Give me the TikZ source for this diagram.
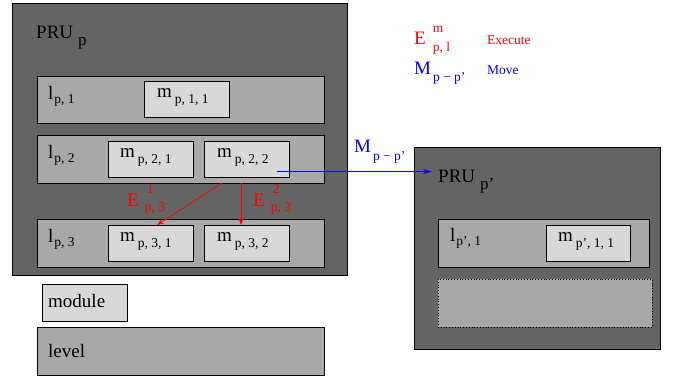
\documentclass[tikz,border=0pt]{standalone}
\usepackage{fontspec}
\setmainfont{Liberation Serif}
\newfontfamily\timesx{Liberation Serif}
\usetikzlibrary{arrows.meta}
\definecolor{pruc}{HTML}{646464}
\definecolor{lvlc}{HTML}{A8A8A8}
\definecolor{modc}{HTML}{D8D8D8}
\definecolor{myred}{HTML}{FF0000}
\definecolor{myblue}{HTML}{0000FF}
\newcommand\bigf{\timesx\fontsize{19}{21}\selectfont}
\newcommand\smf{\timesx\fontsize{13.5}{15}\selectfont}
\newcommand\midf{\timesx\fontsize{17}{19}\selectfont}
\newcommand\sbx[2][5pt]{\raisebox{-#1}{\smf #2}}
\newcommand\spx[2][12pt]{\raisebox{#1}{\smf #2}}
\newcommand\sbm[2][7pt]{\raisebox{-#1}{\midf #2}}
\begin{document}
\begin{tikzpicture}[x=1pt,y=-1pt,
  box/.style={draw=black, line width=0.8pt, anchor=north west, inner sep=0pt, outer sep=0pt},
  prubox/.style={box, fill=pruc},
  lvlbox/.style={box, fill=lvlc},
  modbox/.style={box, fill=modc, minimum width=85pt, minimum height=36pt},
  lab/.style={anchor=base west, inner sep=0pt, font=\bigf},
  leg/.style={anchor=base west, inner sep=0pt, font=\smf},
  redarrow/.style={draw=myred, line width=0.7pt, -{Stealth[length=7pt,width=5pt]}},
  bluearrow/.style={draw=myblue, line width=0.9pt, -{Stealth[length=9pt,width=5pt]}}]
\useasboundingbox (0,0) rectangle (673,377);
% left PRU
\node[prubox, minimum width=335pt, minimum height=272pt] (prup) at (12,3) {};
\node[lvlbox, minimum width=287pt, minimum height=47pt] (l1) at (37,76) {};
\node[lvlbox, minimum width=287pt, minimum height=48pt] (l2) at (37,135) {};
\node[lvlbox, minimum width=287pt, minimum height=48pt] (l3) at (37,219) {};
\node[modbox] (m11) at (144,81) {};
\node[modbox] (m21) at (108,141) {};
\node[modbox] (m22) at (204,141) {};
\node[modbox] (m31) at (108,225) {};
\node[modbox] (m32) at (204,225) {};
\node[lab] (tprup) at (36,39) {PRU\hspace{5pt}\sbm[7pt]{p}};
\node[lab] (tl1) at (48,100) {l\hspace{1pt}\sbx[4pt]{p, 1}};
\node[lab] (tl2) at (48,159) {l\hspace{1pt}\sbx[4pt]{p, 2}};
\node[lab] (tl3) at (48,243) {l\hspace{1pt}\sbx[4pt]{p, 3}};
\node[lab] (tm11) at (157,98) {m\hspace{3pt}\sbx[6pt]{p, 1, 1}};
\node[lab] (tm21) at (120,158) {m\hspace{3pt}\sbx[6pt]{p, 2, 1}};
\node[lab] (tm22) at (217,158) {m\hspace{3pt}\sbx[6pt]{p, 2, 2}};
\node[lab] (tm31) at (120,242) {m\hspace{3pt}\sbx[6pt]{p, 3, 1}};
\node[lab] (tm32) at (217,242) {m\hspace{3pt}\sbx[6pt]{p, 3, 2}};
% right PRU
\node[prubox, minimum width=246pt, minimum height=202pt] (prupp) at (414,147) {};
\node[lvlbox, minimum width=211pt, minimum height=48pt] (lpp1) at (438,219) {};
\node[modbox, minimum width=84pt] (mpp11) at (546,225) {};
\node[box, fill=lvlc, dotted, minimum width=214pt, minimum height=48pt] (dotb) at (438,279) {};
\node[lab] (tprupp) at (438,183) {PRU\hspace{5pt}\sbm[7pt]{p’}};
\node[lab] (tlpp1) at (450,242) {l\hspace{1pt}\sbx[4pt]{p’, 1}};
\node[lab] (tmpp11) at (558,242) {m\hspace{3pt}\sbx[6pt]{p’, 1, 1}};
% legend boxes
\node[modbox, minimum height=37pt] (legmod) at (42,284) {};
\node[lvlbox, minimum width=287pt, minimum height=48pt] (leglvl) at (37,327) {};
\node[lab] (tlegmod) at (48,308) {module};
\node[lab] (tleglvl) at (48,357) {level};
% legend symbols
\node[lab, text=myred] (legE) at (414,45) {E\hspace{7pt}\rlap{\spx[12pt]{m}}\sbx[7pt]{p, l}};
\node[leg, text=myred] (legEx) at (487,45) {Execute};
\node[lab, text=myblue] (legM) at (414,75) {M\hspace{2pt}\sbx[7pt]{p − p’}};
\node[leg, text=myblue] (legMv) at (487,75) {Move};
% red execute arrows
\coordinate (e1s) at (222,183);
\coordinate (e1t) at (157,225);
\coordinate (e2s) at (241,183);
\coordinate (e2t) at (241,225);
\draw[redarrow] (e1s) -- (e1t);
\draw[redarrow] (e2s) -- (e2t);
\node[lab, text=myred] (tE1) at (127,207) {E\hspace{6pt}\rlap{\hspace{2pt}\spx[13pt]{1}}\sbx[5pt]{p, 3}};
\node[lab, text=myred] (tE2) at (253,207) {E\hspace{6pt}\rlap{\hspace{2pt}\spx[13pt]{2}}\sbx[5pt]{p, 3}};
% blue move arrow
\coordinate (ms) at (277,171.5);
\coordinate (mt) at (432,171.5);
\draw[bluearrow] (ms) -- (mt);
\node[lab, text=myblue] (tM) at (354,153) {M\hspace{2pt}\sbx[8pt]{p − p’}};
\end{tikzpicture}
\end{document}
